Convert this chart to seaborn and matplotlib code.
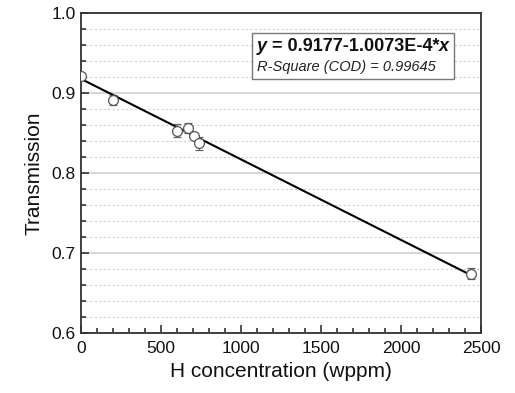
import numpy as np
import pandas as pd
import matplotlib
matplotlib.use('Agg')
import matplotlib.pyplot as plt
import seaborn as sns
from matplotlib.ticker import MultipleLocator
from matplotlib.offsetbox import TextArea, HPacker, VPacker, AnchoredOffsetbox

h_conc = [0, 200, 600, 670, 710, 740, 2440]
transmission = [0.921, 0.891, 0.853, 0.856, 0.846, 0.837, 0.674]
err = [0.004, 0.006, 0.008, 0.006, 0.004, 0.008, 0.007]

# linear fit coefficients as printed on the chart
intercept = 0.9177
slope = -1.0073e-4

sns.set_style('white')
plt.rcParams['font.family'] = ['Liberation Sans', 'DejaVu Sans']

df = pd.DataFrame({'h': h_conc, 't': transmission, 'e': err})
fit_x = np.array([min(h_conc), max(h_conc)])
fit = pd.DataFrame({'h': fit_x, 't': intercept + slope * fit_x})

fig, ax = plt.subplots(figsize=(5.15, 3.93), dpi=100)
fig.subplots_adjust(left=0.157, right=0.934, top=0.967, bottom=0.153)

ax.errorbar(df['h'], df['t'], yerr=df['e'], fmt='none', ecolor='#666666',
            elinewidth=0.9, capsize=3, capthick=0.9, zorder=3)
sns.lineplot(data=fit, x='h', y='t', color='black', linewidth=1.5, ax=ax, zorder=4)
sns.scatterplot(data=df, x='h', y='t', marker='o', s=50, facecolor='white',
                edgecolor='#555555', linewidth=0.9, ax=ax, zorder=5)

ax.set_xlim(0, 2500)
ax.set_ylim(0.6, 1.0)
ax.xaxis.set_major_locator(MultipleLocator(500))
ax.xaxis.set_minor_locator(MultipleLocator(100))
ax.yaxis.set_minor_locator(MultipleLocator(0.02))
ax.set_yticks([0.6, 0.7, 0.8, 0.9, 1.0])
ax.set_yticklabels(['0.6', '0.7', '0.8', '0.9', '1.0'])

ax.grid(True, which='major', axis='y', color='#d0d0d0', linewidth=1.2, linestyle='-')
ax.grid(True, which='minor', axis='y', color='#d0d0d0', linewidth=0.8, linestyle=(0, (2, 2)))
ax.grid(False, axis='x', which='both')
ax.set_axisbelow(True)

ax.tick_params(which='both', direction='in', bottom=True, left=True, top=False, right=False,
               labelsize=12.5, colors='#333333', labelcolor='#111111')
ax.tick_params(which='major', length=6, width=1.2)
ax.tick_params(which='minor', length=3.5, width=1.2)
ax.tick_params(axis='x', pad=6)
for s in ax.spines.values():
    s.set_visible(True)
    s.set_color('#333333')
    s.set_linewidth(1.3)

ax.set_xlabel('H concentration (wppm)', fontsize=15, color='#111111', labelpad=4)
ax.set_ylabel('Transmission', fontsize=15, color='#111111', labelpad=6)

# fit equation box
eq_y = TextArea('y', textprops=dict(fontsize=13, weight='bold', style='italic', color='#111111'))
eq_mid = TextArea(' = 0.9177-1.0073E-4*', textprops=dict(fontsize=13, weight='bold', color='#111111'))
eq_x = TextArea('x', textprops=dict(fontsize=13, weight='bold', style='italic', color='#111111'))
line1 = HPacker(children=[eq_y, eq_mid, eq_x], align='baseline', pad=0, sep=0)
line2 = TextArea('R-Square (COD) = 0.99645',
                 textprops=dict(fontsize=10.5, style='italic', color='#222222'))
box = VPacker(children=[line1, line2], align='left', pad=0, sep=4)
anchored = AnchoredOffsetbox(loc='upper right', child=box, pad=0.35, borderpad=0,
                             frameon=True, bbox_to_anchor=(0.9325, 0.9375),
                             bbox_transform=ax.transAxes)
anchored.patch.set_edgecolor('#777777')
anchored.patch.set_linewidth(1.0)
anchored.patch.set_boxstyle('square,pad=0')
anchored.set_zorder(6)
ax.add_artist(anchored)

fig.savefig('out.png', dpi=100, facecolor='white')
